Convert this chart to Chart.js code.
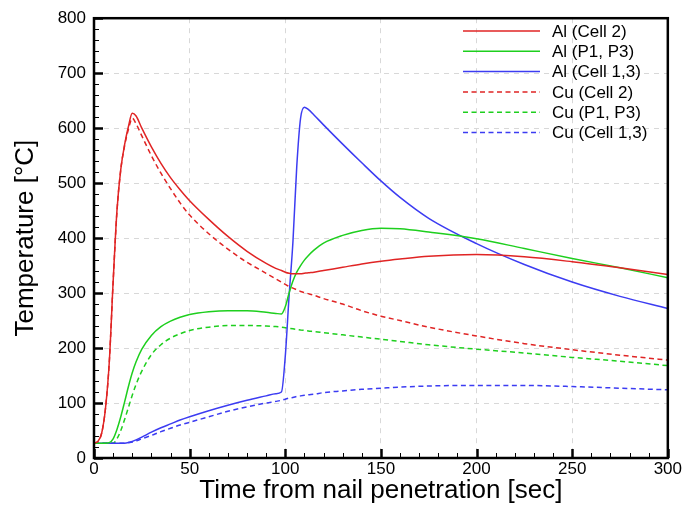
<!DOCTYPE html>
<html>
<head>
<meta charset="utf-8">
<script src="https://cdn.jsdelivr.net/npm/chart.js@4.4.1/dist/chart.umd.min.js"></script>
<style>
  html, body { margin: 0; padding: 0; background: #fff; }
  #wrap { width: 683px; height: 506px; }
</style>
</head>
<body>
<div id="wrap"><canvas id="temp"></canvas></div>
<script>
// time axis (sec) shared by all six curves
const times = [0, 2, 4, 6, 8, 10, 12, 14, 16, 18, 20, 22, 25, 30, 35, 40, 45, 50, 60, 70, 80, 90,
               95, 98, 100, 102, 104, 106, 108, 110, 112, 115, 120, 130, 140, 150, 160, 175, 200, 225, 250, 275, 300];

// temperatures in deg C
const alCell2 = [27, 30, 45, 90, 175, 320, 450, 525, 570, 603, 627, 622, 600, 566, 536, 510, 488, 468, 434, 403, 376, 354,
                 345, 341, 338, 336, 335, 335, 335, 336, 337, 338, 341, 347, 353, 358, 362, 367, 370, 366, 357, 346, 334];
const alP1P3 = [27, 27, 27, 27, 28, 35, 52, 75, 102, 130, 155, 175, 198, 223, 239, 249, 256, 261, 266, 268, 268, 265,
                263, 262, 275, 300, 322, 338, 350, 360, 368, 378, 391, 405, 414, 418, 417, 411, 399, 381, 363, 346, 328];
const alCell13 = [27, 27, 27, 27, 27, 27, 27, 27, 27, 28, 30, 33, 38, 47, 55, 62, 69, 75, 86, 96, 105, 113,
                  117, 120, 185, 295, 393, 530, 618, 638, 634, 624, 606, 571, 537, 504, 474, 436, 390, 352, 320, 294, 272];
const cuCell2 = [27, 30, 45, 90, 175, 320, 448, 525, 568, 598, 618, 608, 586, 550, 518, 490, 464, 442, 408, 380, 356, 336,
                 326, 320, 316, 312, 309, 306, 303, 301, 299, 296, 290, 280, 268, 258, 250, 238, 222, 208, 197, 187, 178];
const cuP1P3 = [27, 27, 27, 27, 27, 27, 35, 50, 70, 92, 114, 134, 158, 188, 206, 218, 226, 232, 238, 241, 241, 240,
                239, 238, 237, 236, 235, 234, 233, 232, 231, 230, 228, 224, 220, 216, 212, 206, 198, 191, 183, 176, 168];
const cuCell13 = [27, 27, 27, 27, 27, 27, 27, 27, 27, 28, 29, 31, 35, 41, 48, 54, 60, 65, 75, 85, 93, 100,
                  103, 105, 107, 109, 110, 112, 113, 114, 115, 116, 119, 122, 125, 127, 129, 131, 132, 132, 130, 127, 124];

const seriesLabels = ['Al (Cell 2)', 'Al (P1, P3)', 'Al (Cell 1,3)', 'Cu (Cell 2)', 'Cu (P1, P3)', 'Cu (Cell 1,3)'];
const seriesValues = [alCell2, alP1P3, alCell13, cuCell2, cuP1P3, cuCell13];

const RED = '#e02424', GREEN = '#1ecf1e', BLUE = '#3c3cf2';
const colors = [RED, GREEN, BLUE, RED, GREEN, BLUE];
const DASH = [5, 3.5];
const FONT = "'Liberation Sans', Arial, sans-serif";

function toPoints(vals) {
    return vals.map((v, i) => ({x: times[i], y: v}));
}

const datasets = seriesValues.map((vals, i) => ({
    label: seriesLabels[i],
    data: toPoints(vals),
    borderColor: colors[i],
    borderWidth: 1.5,
    borderDash: i >= 3 ? DASH : [],
    pointRadius: 0,
    fill: false,
    cubicInterpolationMode: 'monotone'
}));

// frame, inward tick marks and the legend inside the plot
const framePlugin = {
    id: 'frame',
    afterDraw(chart) {
        const ctx = chart.ctx;
        const a = chart.chartArea;
        const xs = chart.scales.x, ys = chart.scales.y;
        ctx.save();
        ctx.strokeStyle = '#000';
        // bottom axis: major every 50, minor every 10
        for (let t = 0; t <= 300; t += 10) {
            const px = Math.round(xs.getPixelForValue(t)) + 0.5;
            const len = t % 50 === 0 ? 9 : 5;
            ctx.lineWidth = t % 50 === 0 ? 2.5 : 1;
            ctx.beginPath();
            ctx.moveTo(px, a.bottom);
            ctx.lineTo(px, a.bottom - len);
            ctx.stroke();
        }
        // left axis: major every 100, minor every 20
        for (let v = 0; v <= 800; v += 20) {
            const py = Math.round(ys.getPixelForValue(v)) + 0.5;
            const len = v % 100 === 0 ? 9 : 5;
            ctx.lineWidth = v % 100 === 0 ? 2.5 : 1;
            ctx.beginPath();
            ctx.moveTo(a.left, py);
            ctx.lineTo(a.left + len, py);
            ctx.stroke();
        }
        ctx.lineWidth = 2.5;
        ctx.strokeRect(a.left, a.top, a.right - a.left, a.bottom - a.top);

        // legend
        ctx.font = '17px ' + FONT;
        ctx.textBaseline = 'middle';
        ctx.fillStyle = '#000';
        chart.data.datasets.forEach((ds, i) => {
            const y = 31 + i * 20.3;
            ctx.strokeStyle = ds.borderColor;
            ctx.lineWidth = 1.5;
            ctx.setLineDash(ds.borderDash);
            ctx.beginPath();
            ctx.moveTo(463, y);
            ctx.lineTo(540, y);
            ctx.stroke();
            ctx.setLineDash([]);
            ctx.fillText(ds.label, 552, y + 1);
        });
        ctx.restore();
    }
};

new Chart(document.getElementById('temp'), {
    type: 'line',
    data: { datasets: datasets },
    options: {
        responsive: true,
        maintainAspectRatio: false,
        animation: false,
        layout: { padding: { top: 14, right: 14, left: 0, bottom: 0 } },
        plugins: { legend: { display: false }, tooltip: { enabled: false } },
        scales: {
            x: {
                type: 'linear',
                min: 0,
                max: 300,
                ticks: { stepSize: 50, color: '#000', padding: 1, font: { family: FONT, size: 17 } },
                grid: { color: '#d8d8d8', lineWidth: 1, drawTicks: false },
                border: { display: false, dash: [5, 5] },
                title: {
                    display: true,
                    text: 'Time from nail penetration [sec]',
                    color: '#000',
                    font: { family: FONT, size: 26 },
                    padding: { top: 0, bottom: 0 }
                },
                afterFit(scale) { scale.height = 48; }
            },
            y: {
                min: 0,
                max: 800,
                ticks: { stepSize: 100, color: '#000', padding: 8, font: { family: FONT, size: 17 } },
                grid: { color: '#d8d8d8', lineWidth: 1, drawTicks: false },
                border: { display: false, dash: [5, 5] },
                title: {
                    display: true,
                    text: 'Temperature [°C]',
                    color: '#000',
                    font: { family: FONT, size: 26 },
                    padding: { top: 10, bottom: 0 }
                },
                afterFit(scale) { scale.width = 94; }
            }
        }
    },
    plugins: [framePlugin]
});
</script>
</body>
</html>
